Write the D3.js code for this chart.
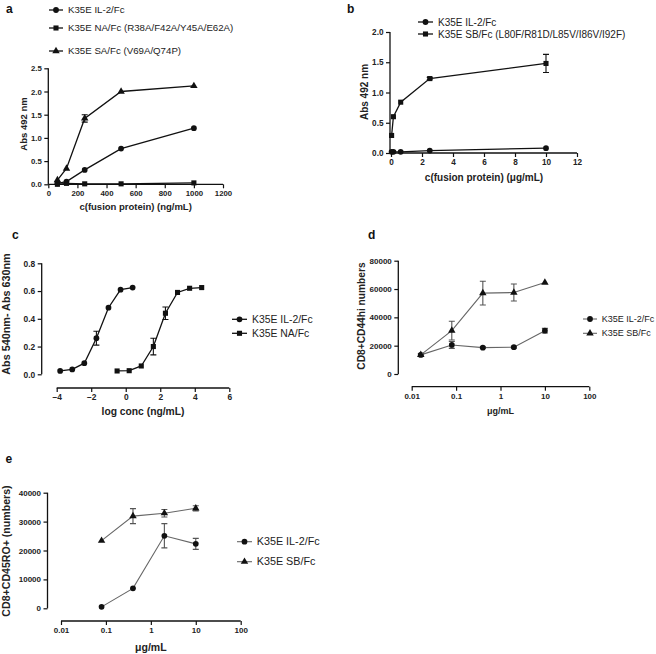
<!DOCTYPE html>
<html><head><meta charset="utf-8">
<script src="https://cdn.jsdelivr.net/npm/d3@7"></script>
<style>
html,body{margin:0;padding:0;background:#fff;}
svg{display:block;font-family:"Liberation Sans",Arial,sans-serif;}
</style></head>
<body>
<svg id="chart" width="656" height="654"></svg>
<script>
// ---------- DATA ----------
// Panel a
const aX = [62.5, 125, 250, 500, 1000];
const aIL2 = [0.02, 0.06, 0.31, 0.77, 1.21];
const aNA = [0.00, 0.02, 0.01, 0.01, 0.03];
const aSA = [0.09, 0.34, 1.42, 2.00, 2.12];
const aSAErr = [0, 0, 0.08, 0, 0];
const aXTicks = [0, 200, 400, 600, 800, 1000, 1200];
const aYTicks = [0, 0.5, 1.0, 1.5, 2.0, 2.5];
const aLegend = ["K35E IL-2/Fc", "K35E NA/Fc (R38A/F42A/Y45A/E62A)", "K35E SA/Fc (V69A/Q74P)"];

// Panel b
const bX = [0.039, 0.156, 0.625, 2.5, 10];
const bIL2 = [0.02, 0.02, 0.02, 0.04, 0.08];
const bSB = [0.29, 0.60, 0.84, 1.23, 1.48];
const bSBErr = [0, 0, 0, 0.02, 0.15];
const bXTicks = [0, 2, 4, 6, 8, 10, 12];
const bYTicks = [0, 0.5, 1.0, 1.5, 2.0];
const bLegend = ["K35E IL-2/Fc", "K35E SB/Fc (L80F/R81D/L85V/I86V/I92F)"];

// Panel c
const cXIL2 = [-3.8, -3.1, -2.4, -1.7, -1.0, -0.3, 0.4];
const cIL2 = [0.024, 0.035, 0.08, 0.26, 0.48, 0.61, 0.625];
const cIL2Err = [0, 0, 0, 0.05, 0, 0, 0];
const cXNA = [-0.5, 0.2, 0.9, 1.6, 2.3, 3.0, 3.7, 4.4];
const cNA = [0.024, 0.026, 0.06, 0.20, 0.44, 0.59, 0.62, 0.625];
const cNAErr = [0, 0, 0, 0.06, 0.045, 0, 0, 0];
const cXTicks = [-4, -2, 0, 2, 4, 6];
const cYTicks = [0, 0.2, 0.4, 0.6, 0.8];
const cLegend = ["K35E IL-2/Fc", "K35E NA/Fc"];

// Panel d
const dX = [0.016, 0.08, 0.4, 2, 10];
const dIL2 = [13500, 20500, 18600, 18900, 30600];
const dIL2Err = [800, 2400, 600, 600, 1600];
const dSB = [13500, 30600, 57100, 57500, 64600];
const dSBErr = [0, 6600, 8400, 6000, 0];
const dXTicks = [0.01, 0.1, 1, 10, 100];
const dXTickLabels = ["0.01", "0.1", "1", "10", "100"];
const dYTicks = [0, 20000, 40000, 60000, 80000];
const dLegend = ["K35E IL-2/Fc", "K35E SB/Fc"];

// Panel e
const eX = [0.08, 0.4, 2, 10];
const eIL2 = [500, 6900, 25100, 22300];
const eIL2Err = [0, 0, 4200, 1900];
const eSB = [23400, 31900, 32900, 34600];
const eSBErr = [0, 2600, 1300, 900];
const eXTicks = [0.01, 0.1, 1, 10, 100];
const eXTickLabels = ["0.01", "0.1", "1", "10", "100"];
const eYTicks = [0, 10000, 20000, 30000, 40000];
const eLegend = ["K35E IL-2/Fc", "K35E SB/Fc"];

// ---------- DRAWING ----------
const svg = d3.select("#chart");

function symbolPath(shape, size) {
  const t = shape === "circle" ? d3.symbolCircle : shape === "square" ? d3.symbolSquare : d3.symbolTriangle;
  return d3.symbol().type(t).size(size)();
}
const symSize = {circle: 26, square: 26, triangle: 24};

function drawPanel(p) {
  const g = svg.append("g");
  const x = p.log ? d3.scaleLog().domain(p.xDomain).range(p.xRange)
                  : d3.scaleLinear().domain(p.xDomain).range(p.xRange);
  const y = d3.scaleLinear().domain(p.yDomain).range(p.yRange);

  // axes
  const xa = d3.axisBottom(x).tickValues(p.xTicks).tickSize(4).tickPadding(2.5)
    .tickFormat((d, i) => p.xTickLabels ? p.xTickLabels[i] : p.xFmt(d));
  const ya = d3.axisLeft(y).tickValues(p.yTicks).tickSize(4).tickPadding(2.5)
    .tickFormat(p.yFmt);
  const gx = g.append("g").attr("transform", `translate(0,${p.xAxisY})`).call(xa);
  const gy = g.append("g").attr("transform", `translate(${p.yAxisX},0)`).call(ya);
  [gx, gy].forEach(a => {
    a.select(".domain").attr("stroke", "#111").attr("stroke-width", 1.3)
      .attr("d", null);
    a.selectAll(".tick line").attr("stroke", "#111").attr("stroke-width", 1.2);
    a.selectAll(".tick text").attr("fill", "#222").attr("font-size", p.tickFs)
      .attr("font-weight", "bold").attr("font-family", "Liberation Sans, Arial, sans-serif");
  });
  // explicit domain lines (no end ticks)
  gx.select(".domain").attr("d", `M${p.xRange[0]},0H${p.xRange[1]}`);
  gy.select(".domain").attr("d", `M0,${p.yRange[0]}V${p.yRange[1]}`);

  // titles
  g.append("text").attr("x", (p.xRange[0] + p.xRange[1]) / 2).attr("y", p.xTitleY)
    .attr("text-anchor", "middle").attr("font-weight", "bold").attr("font-size", p.titleFs)
    .attr("fill", "#222").text(p.xTitle);
  g.append("text").attr("transform", `translate(${p.yTitleX},${p.yTitleCY}) rotate(-90)`)
    .attr("text-anchor", "middle").attr("dy", "0.35em").attr("font-weight", "bold")
    .attr("font-size", p.yTitleFs || p.titleFs).attr("fill", "#222").text(p.yTitle);
  // panel letter
  g.append("text").attr("x", p.letterX).attr("y", p.letterY).attr("font-weight", "bold")
    .attr("font-size", 12).attr("fill", "#111").text(p.letter);

  // series
  p.series.forEach(s => {
    const pts = s.x.map((xv, i) => ({x: xv, y: s.y[i], e: s.err ? s.err[i] : 0}));
    g.append("path").datum(pts)
      .attr("d", d3.line().x(d => x(d.x)).y(d => y(d.y)))
      .attr("fill", "none").attr("stroke", p.lineColor).attr("stroke-width", p.lineW);
    // error bars
    pts.filter(d => d.e > 0).forEach(d => {
      const cx = x(d.x), y1 = y(d.y + d.e), y2 = y(d.y - d.e);
      g.append("path").attr("d", `M${cx},${y1}V${y2}M${cx - 3},${y1}H${cx + 3}M${cx - 3},${y2}H${cx + 3}`)
        .attr("stroke", p.errColor || "#111").attr("stroke-width", 1.1).attr("fill", "none");
    });
    g.selectAll(null).data(pts).enter().append("path")
      .attr("transform", d => `translate(${x(d.x)},${y(d.y)})`)
      .attr("d", symbolPath(s.shape, symSize[s.shape])).attr("fill", "#111");
  });

  // legend
  p.legend.forEach((lab, i) => {
    const ly = p.legY[i];
    const shape = p.series[i].shape;
    g.append("line").attr("x1", p.legX[0]).attr("x2", p.legX[1]).attr("y1", ly).attr("y2", ly)
      .attr("stroke", p.lineColor).attr("stroke-width", p.lineW);
    g.append("path").attr("transform", `translate(${(p.legX[0] + p.legX[1]) / 2},${ly})`)
      .attr("d", symbolPath(shape, symSize[shape])).attr("fill", "#111");
    g.append("text").attr("x", p.legX[2]).attr("y", ly).attr("dy", "0.35em")
      .attr("font-size", p.legFs).attr("fill", "#222").text(lab);
  });
}

const f1 = d3.format(".1f"), fd = d3.format("d");

drawPanel({
  letter: "a", letterX: 6, letterY: 13,
  xDomain: [0, 1200], xRange: [48.3, 223], yDomain: [0, 2.5], yRange: [184.3, 68.3],
  xAxisY: 184.3, yAxisX: 48.3, xTicks: aXTicks, yTicks: aYTicks, xFmt: fd, yFmt: f1,
  tickFs: 7.8, titleFs: 9.5, xTitle: "c(fusion protein) (ng/mL)", xTitleY: 210,
  yTitle: "Abs 492 nm", yTitleX: 24, yTitleCY: 124,
  lineColor: "#111", lineW: 1.3,
  series: [
    {x: aX, y: aIL2, shape: "circle"},
    {x: aX, y: aNA, shape: "square"},
    {x: aX, y: aSA, err: aSAErr, shape: "triangle"}
  ],
  legend: aLegend, legY: [10, 28, 51], legX: [49, 63, 68], legFs: 9.7
});

drawPanel({
  letter: "b", letterX: 347, letterY: 13,
  xDomain: [0, 12], xRange: [391, 577], yDomain: [0, 2], yRange: [153, 32],
  xAxisY: 153, yAxisX: 390, xTicks: bXTicks, yTicks: bYTicks, xFmt: fd, yFmt: f1,
  tickFs: 8.2, titleFs: 10, xTitle: "c(fusion protein) (\u03bcg/mL)", xTitleY: 181,
  yTitle: "Abs 492 nm", yTitleX: 364, yTitleCY: 92,
  lineColor: "#111", lineW: 1.3,
  series: [
    {x: bX, y: bIL2, shape: "circle"},
    {x: bX, y: bSB, err: bSBErr, shape: "square"}
  ],
  legend: bLegend, legY: [22, 34], legX: [418, 433, 438], legFs: 10
});

drawPanel({
  letter: "c", letterX: 12, letterY: 238.5,
  xDomain: [-4, 6], xRange: [56.7, 229.3], yDomain: [0, 0.8], yRange: [374.3, 263.3],
  xAxisY: 388, yAxisX: 41.7, xTicks: cXTicks, yTicks: cYTicks, xFmt: fd, yFmt: f1,
  tickFs: 8.4, titleFs: 10.3, yTitleFs: 10.8, xTitle: "log conc (ng/mL)", xTitleY: 415,
  yTitle: "Abs 540nm- Abs 630nm", yTitleX: 6, yTitleCY: 314,
  lineColor: "#111", lineW: 1.3,
  series: [
    {x: cXIL2, y: cIL2, err: cIL2Err, shape: "circle"},
    {x: cXNA, y: cNA, err: cNAErr, shape: "square"}
  ],
  legend: cLegend, legY: [319.3, 333.3], legX: [232, 247, 252], legFs: 10.4
});

drawPanel({
  letter: "d", letterX: 368, letterY: 239,
  log: true,
  xDomain: [0.01, 100], xRange: [411.7, 589.3], yDomain: [0, 80000], yRange: [374, 260.7],
  xAxisY: 386.7, yAxisX: 398.3, xTicks: dXTicks, xTickLabels: dXTickLabels, yTicks: dYTicks, yFmt: fd,
  tickFs: 8, titleFs: 9, yTitleFs: 10.2, xTitle: "\u03bcg/mL", xTitleY: 414,
  yTitle: "CD8+CD44hi numbers", yTitleX: 361, yTitleCY: 316,
  lineColor: "#666", lineW: 1.1, errColor: "#555",
  series: [
    {x: dX, y: dIL2, err: dIL2Err, shape: "circle"},
    {x: dX, y: dSB, err: dSBErr, shape: "triangle"}
  ],
  legend: dLegend, legY: [319, 333.3], legX: [583, 597, 601.7], legFs: 9
});

drawPanel({
  letter: "e", letterX: 5.5, letterY: 463,
  log: true,
  xDomain: [0.01, 100], xRange: [61, 240.7], yDomain: [0, 40000], yRange: [608.3, 492.7],
  xAxisY: 621, yAxisX: 47.5, xTicks: eXTicks, xTickLabels: eXTickLabels, yTicks: eYTicks, yFmt: fd,
  tickFs: 8, titleFs: 10.5, yTitleFs: 10.6, xTitle: "\u03bcg/mL", xTitleY: 651,
  yTitle: "CD8+CD45RO+ (numbers)", yTitleX: 6.5, yTitleCY: 551,
  lineColor: "#666", lineW: 1.1, errColor: "#555",
  series: [
    {x: eX, y: eIL2, err: eIL2Err, shape: "circle"},
    {x: eX, y: eSB, err: eSBErr, shape: "triangle"}
  ],
  legend: eLegend, legY: [541.7, 561.7], legX: [237, 252, 256.7], legFs: 10.8
});
</script>
</body></html>
